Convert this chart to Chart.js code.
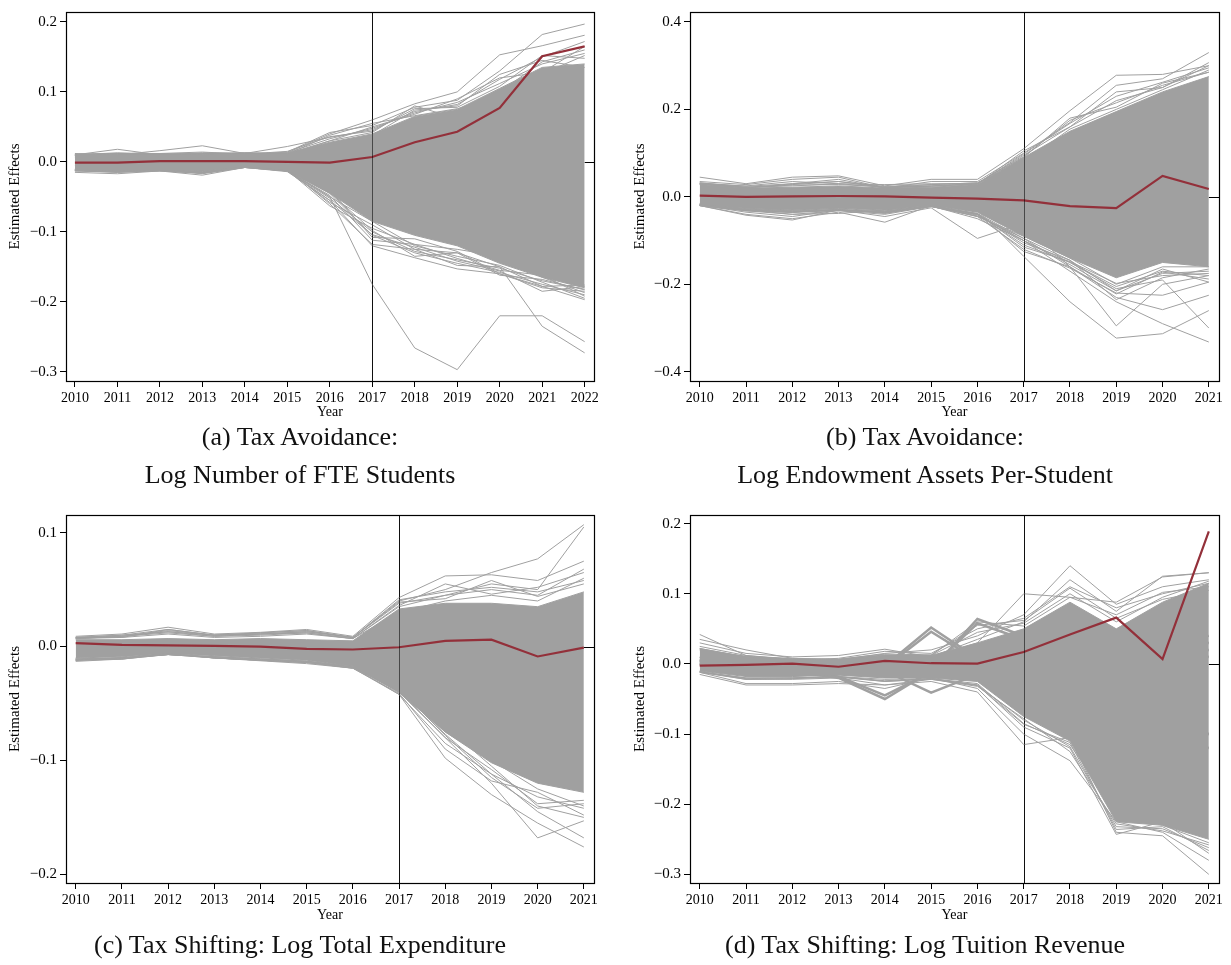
<!DOCTYPE html>
<html>
<head>
<meta charset="utf-8">
<script src="https://cdn.jsdelivr.net/npm/chart.js@4.4.0/dist/chart.umd.min.js"></script>
<style>
  body { margin: 0; background: #fff; }
  #page { position: relative; width: 1231px; height: 965px; font-family: "Liberation Serif", "Times New Roman", serif; }
  canvas { position: absolute; }
  .cap { position: absolute; width: 620px; text-align: center; font-size: 26px; line-height: 38px; color: #111; }
</style>
</head>
<body>
<div id="page">
  <canvas id="chartA" width="610" height="425" style="left:0;top:0"></canvas>
  <canvas id="chartB" width="616" height="425" style="left:615px;top:0"></canvas>
  <canvas id="chartC" width="610" height="425" style="left:0;top:503px"></canvas>
  <canvas id="chartD" width="616" height="425" style="left:615px;top:503px"></canvas>
  <div class="cap" style="left:-10px;top:418px">(a) Tax Avoidance:<br>Log Number of FTE Students</div>
  <div class="cap" style="left:615px;top:418px">(b) Tax Avoidance:<br>Log Endowment Assets Per-Student</div>
  <div class="cap" style="left:-10px;top:926px">(c) Tax Shifting: Log Total Expenditure</div>
  <div class="cap" style="left:615px;top:926px">(d) Tax Shifting: Log Tuition Revenue</div>
</div>
<script>
// ---------- data ----------
var yearsA = [2010,2011,2012,2013,2014,2015,2016,2017,2018,2019,2020,2021,2022];
var yearsB = [2010,2011,2012,2013,2014,2015,2016,2017,2018,2019,2020,2021];

// (a) log number of FTE students: red = actual estimate, hi/lo = dense placebo band
var redA = [-0.001,-0.001,0.001,0.001,0.001,0.000,-0.001,0.007,0.028,0.043,0.077,0.151,0.165];
var hiA  = [0.010,0.011,0.011,0.011,0.012,0.012,0.028,0.040,0.065,0.075,0.105,0.135,0.140];
var loA  = [-0.012,-0.013,-0.012,-0.013,-0.007,-0.012,-0.045,-0.085,-0.105,-0.120,-0.145,-0.165,-0.180];
var linesA = [
  [0.008,0.012,0.010,0.012,0.011,0.013,0.040,0.060,0.083,0.100,0.153,0.166,0.181],
  [0.010,0.018,0.010,0.012,0.010,0.014,0.042,0.052,0.078,0.088,0.130,0.182,0.197],
  [0.012,0.010,0.016,0.023,0.012,0.022,0.035,0.046,0.072,0.082,0.118,0.150,0.172],
  [0.006,0.009,0.012,0.010,0.013,0.010,0.030,0.042,0.080,0.062,0.100,0.143,0.160],
  [0.009,0.011,0.009,0.013,0.012,0.011,0.038,0.055,0.066,0.076,0.092,0.126,0.152],
  [0.010,0.013,0.011,0.012,0.012,0.013,0.033,0.048,0.070,0.085,0.112,0.140,0.155],
  [0.011,0.012,0.012,0.014,0.011,0.015,0.036,0.044,0.076,0.078,0.108,0.152,0.148],
  [0.009,0.011,0.010,0.011,0.012,0.012,0.030,0.050,0.068,0.090,0.120,0.128,0.165],
  [0.010,0.012,0.011,0.012,0.013,0.012,0.026,0.038,0.074,0.080,0.125,0.145,0.135],
  [-0.005,-0.008,-0.006,-0.008,-0.004,-0.012,-0.050,-0.175,-0.266,-0.297,-0.220,-0.220,-0.257],
  [-0.010,-0.012,-0.010,-0.012,-0.006,-0.010,-0.060,-0.118,-0.125,-0.130,-0.150,-0.235,-0.273],
  [-0.015,-0.017,-0.013,-0.019,-0.008,-0.014,-0.055,-0.120,-0.137,-0.153,-0.160,-0.178,-0.197],
  [-0.012,-0.014,-0.012,-0.016,-0.007,-0.013,-0.045,-0.105,-0.130,-0.145,-0.158,-0.175,-0.190],
  [-0.011,-0.013,-0.011,-0.015,-0.006,-0.012,-0.063,-0.095,-0.118,-0.125,-0.135,-0.165,-0.187],
  [-0.013,-0.015,-0.012,-0.017,-0.008,-0.013,-0.050,-0.085,-0.120,-0.135,-0.148,-0.172,-0.195],
  [-0.012,-0.013,-0.012,-0.014,-0.007,-0.012,-0.040,-0.108,-0.110,-0.128,-0.160,-0.180,-0.185],
  [-0.013,-0.014,-0.012,-0.015,-0.007,-0.013,-0.052,-0.100,-0.128,-0.140,-0.152,-0.170,-0.182],
  [-0.012,-0.015,-0.013,-0.016,-0.008,-0.013,-0.048,-0.112,-0.118,-0.138,-0.155,-0.162,-0.192],
  [-0.012,-0.014,-0.012,-0.015,-0.007,-0.012,-0.058,-0.090,-0.125,-0.148,-0.150,-0.178,-0.176],
  [-0.011,-0.013,-0.012,-0.014,-0.007,-0.012,-0.044,-0.098,-0.135,-0.130,-0.162,-0.168,-0.183],
  [-0.012,-0.014,-0.013,-0.016,-0.008,-0.013,-0.055,-0.104,-0.122,-0.142,-0.156,-0.185,-0.178]
];

// (b) log endowment assets per student
var redB = [0.003,0.000,0.001,0.002,0.001,-0.002,-0.004,-0.008,-0.021,-0.026,0.048,0.018];
var hiB  = [0.028,0.020,0.022,0.025,0.020,0.022,0.028,0.090,0.150,0.195,0.240,0.275];
var loB  = [-0.018,-0.026,-0.030,-0.026,-0.030,-0.020,-0.035,-0.090,-0.140,-0.185,-0.150,-0.160];
var linesB = [
  [0.045,0.030,0.045,0.048,0.025,0.040,0.040,0.110,0.197,0.278,0.280,0.300],
  [0.035,0.028,0.040,0.045,0.020,0.035,0.035,0.100,0.170,0.255,0.270,0.330],
  [0.030,0.025,0.035,0.030,0.028,0.030,0.030,0.095,0.160,0.220,0.250,0.307],
  [0.030,0.020,0.030,0.040,0.020,0.025,0.030,0.090,0.180,0.205,0.260,0.285],
  [0.032,0.022,0.028,0.035,0.024,0.028,0.032,0.080,0.155,0.200,0.245,0.290],
  [0.030,0.022,0.025,0.030,0.022,0.025,0.030,0.098,0.168,0.230,0.262,0.295],
  [0.032,0.024,0.030,0.035,0.021,0.028,0.032,0.092,0.175,0.215,0.255,0.285],
  [0.029,0.021,0.027,0.028,0.023,0.024,0.029,0.105,0.160,0.240,0.250,0.300],
  [-0.020,-0.040,-0.050,-0.035,-0.058,-0.020,-0.040,-0.100,-0.170,-0.240,-0.290,-0.332],
  [-0.015,-0.030,-0.040,-0.038,-0.030,-0.020,-0.030,-0.136,-0.240,-0.323,-0.313,-0.260],
  [-0.020,-0.042,-0.053,-0.030,-0.045,-0.025,-0.095,-0.060,-0.160,-0.295,-0.200,-0.180],
  [-0.018,-0.032,-0.040,-0.032,-0.040,-0.022,-0.040,-0.125,-0.160,-0.230,-0.258,-0.225],
  [-0.019,-0.035,-0.045,-0.030,-0.035,-0.022,-0.045,-0.120,-0.163,-0.220,-0.225,-0.195],
  [-0.017,-0.030,-0.035,-0.028,-0.038,-0.021,-0.050,-0.100,-0.150,-0.210,-0.190,-0.300],
  [-0.018,-0.028,-0.032,-0.030,-0.036,-0.020,-0.045,-0.090,-0.140,-0.200,-0.160,-0.160],
  [-0.016,-0.027,-0.031,-0.027,-0.032,-0.021,-0.038,-0.095,-0.145,-0.215,-0.175,-0.170],
  [-0.019,-0.030,-0.034,-0.030,-0.034,-0.021,-0.040,-0.110,-0.150,-0.205,-0.170,-0.180],
  [-0.020,-0.032,-0.036,-0.031,-0.036,-0.022,-0.042,-0.100,-0.155,-0.215,-0.165,-0.195],
  [-0.019,-0.029,-0.034,-0.029,-0.035,-0.021,-0.038,-0.115,-0.148,-0.198,-0.180,-0.175],
  [-0.020,-0.031,-0.035,-0.030,-0.037,-0.022,-0.044,-0.095,-0.160,-0.222,-0.172,-0.188],
  [-0.019,-0.030,-0.033,-0.031,-0.033,-0.021,-0.039,-0.105,-0.145,-0.235,-0.185,-0.165]
];

// (c) log total expenditure
var redC = [0.003,0.0015,0.001,0.0006,0.000,-0.002,-0.0026,-0.0006,0.005,0.006,-0.0087,-0.001];
var hiC  = [0.006,0.006,0.007,0.006,0.007,0.006,0.005,0.033,0.038,0.038,0.035,0.048];
var loC  = [-0.010,-0.009,-0.006,-0.008,-0.010,-0.012,-0.017,-0.040,-0.075,-0.102,-0.120,-0.128];
var linesC = [
  [0.009,0.011,0.017,0.011,0.0125,0.015,0.009,0.043,0.062,0.063,0.058,0.075],
  [0.008,0.008,0.015,0.010,0.012,0.014,0.008,0.040,0.050,0.065,0.077,0.107],
  [0.007,0.009,0.012,0.009,0.010,0.012,0.007,0.035,0.045,0.055,0.050,0.105],
  [0.008,0.010,0.013,0.010,0.011,0.013,0.008,0.038,0.045,0.050,0.045,0.068],
  [0.007,0.008,0.011,0.008,0.009,0.011,0.007,0.030,0.040,0.045,0.040,0.060],
  [0.008,0.009,0.014,0.010,0.011,0.013,0.008,0.041,0.048,0.052,0.048,0.058],
  [0.007,0.009,0.013,0.009,0.011,0.012,0.007,0.036,0.055,0.046,0.052,0.065],
  [0.008,0.010,0.015,0.010,0.012,0.014,0.008,0.039,0.042,0.058,0.044,0.055],
  [-0.013,-0.011,-0.007,-0.010,-0.0125,-0.015,-0.019,-0.042,-0.098,-0.130,-0.155,-0.176],
  [-0.012,-0.010,-0.006,-0.010,-0.012,-0.014,-0.018,-0.040,-0.080,-0.120,-0.168,-0.153],
  [-0.011,-0.010,-0.007,-0.009,-0.011,-0.013,-0.018,-0.038,-0.077,-0.112,-0.145,-0.168],
  [-0.012,-0.011,-0.006,-0.010,-0.012,-0.014,-0.019,-0.036,-0.070,-0.105,-0.140,-0.150],
  [-0.011,-0.010,-0.007,-0.009,-0.011,-0.013,-0.017,-0.040,-0.075,-0.100,-0.125,-0.140],
  [-0.012,-0.010,-0.007,-0.009,-0.011,-0.013,-0.018,-0.042,-0.085,-0.112,-0.132,-0.142],
  [-0.011,-0.010,-0.006,-0.010,-0.012,-0.014,-0.018,-0.039,-0.080,-0.108,-0.138,-0.135],
  [-0.012,-0.011,-0.007,-0.010,-0.012,-0.014,-0.019,-0.041,-0.090,-0.118,-0.128,-0.148],
  [-0.011,-0.010,-0.007,-0.009,-0.011,-0.013,-0.018,-0.037,-0.078,-0.115,-0.142,-0.138]
];

// (d) log tuition revenue
var redD = [-0.0024,-0.0014,0.0005,-0.004,0.0043,0.001,0.0005,0.017,0.042,0.066,0.007,0.189];
var hiD  = [0.022,0.010,0.007,0.006,0.012,0.012,0.030,0.050,0.088,0.050,0.088,0.115];
var loD  = [-0.010,-0.018,-0.018,-0.016,-0.020,-0.020,-0.025,-0.075,-0.110,-0.225,-0.230,-0.250];
var linesD = [
  [0.042,0.012,0.006,0.005,0.010,0.010,0.030,0.100,0.095,0.088,0.124,0.130],
  [0.035,0.020,0.008,0.006,0.015,0.020,0.040,0.070,0.140,0.085,0.110,0.120],
  [0.030,0.015,0.010,0.012,0.021,0.010,0.035,0.060,0.120,0.075,0.125,0.130],
  [0.020,0.010,0.005,0.008,0.018,0.015,0.050,0.065,0.110,0.080,0.100,0.115],
  [0.020,0.011,0.006,0.006,0.013,0.012,0.045,0.058,0.100,0.060,0.095,0.118],
  [0.025,0.012,0.007,0.007,0.014,0.013,0.055,0.062,0.108,0.065,0.092,0.105],
  [0.022,0.010,0.008,0.006,0.012,0.012,0.060,0.054,0.095,0.070,0.102,0.110],
  [-0.015,-0.030,-0.030,-0.028,-0.030,-0.025,-0.040,-0.115,-0.105,-0.240,-0.245,-0.300],
  [-0.012,-0.028,-0.028,-0.025,-0.035,-0.020,-0.035,-0.100,-0.138,-0.225,-0.240,-0.280],
  [-0.011,-0.022,-0.022,-0.020,-0.030,-0.022,-0.030,-0.090,-0.120,-0.243,-0.225,-0.270],
  [-0.012,-0.020,-0.020,-0.018,-0.025,-0.021,-0.028,-0.085,-0.115,-0.210,-0.230,-0.255],
  [-0.011,-0.020,-0.020,-0.018,-0.022,-0.021,-0.030,-0.080,-0.118,-0.232,-0.235,-0.262],
  [-0.012,-0.022,-0.021,-0.019,-0.025,-0.022,-0.032,-0.078,-0.125,-0.228,-0.238,-0.258],
  [-0.011,-0.021,-0.020,-0.018,-0.024,-0.021,-0.031,-0.086,-0.112,-0.236,-0.232,-0.266]
];
// (d) bundles of near-identical placebo paths in 2014-2016, drawn thicker
var bundlesD = [
  [0.002,0.000,0.002,0.000,-0.003,0.052,0.008,0.020,0.030,0.000,0.020,0.010],
  [0.004,0.001,0.001,-0.001,-0.005,0.046,0.005,0.018,0.025,0.005,0.015,0.020],
  [0.005,0.000,0.000,0.000,0.000,-0.008,0.064,0.040,0.050,0.020,0.030,0.040],
  [0.006,0.001,0.001,0.001,0.001,-0.005,0.058,0.035,0.045,0.015,0.035,0.030],
  [0.000,-0.010,-0.010,-0.020,-0.050,-0.010,-0.020,-0.030,-0.050,-0.100,-0.100,-0.100],
  [0.000,-0.008,-0.012,-0.018,-0.045,-0.012,-0.018,-0.025,-0.045,-0.090,-0.110,-0.120],
  [0.010,-0.012,-0.015,-0.010,-0.010,-0.041,-0.015,-0.020,-0.040,-0.080,-0.090,-0.100]
];

var ticksA = [-0.3,-0.2,-0.1,0,0.1,0.2];
var ticksB = [-0.4,-0.2,0,0.2,0.4];
var ticksC = [-0.2,-0.1,0,0.1];
var ticksD = [-0.3,-0.2,-0.1,0,0.1,0.2];

var treatYear = 2017;

// ---------- drawing ----------
var SERIF = '"Liberation Serif", "Times New Roman", serif';
var GRAY = '#a0a0a0';
var RED = '#93303a';

function pts(years, vals) {
    return years.map(function(yr, i) { return {x: yr, y: vals[i]}; });
}

// zero line, treatment-year line and box frame
var refLines = {
    id: 'refLines',
    beforeDatasetsDraw: function(chart, args, opts) {
        var ctx = chart.ctx, a = chart.chartArea, x = chart.scales.x, y = chart.scales.y;
        ctx.save();
        ctx.strokeStyle = '#000';
        ctx.lineWidth = 1;
        var y0 = Math.round(y.getPixelForValue(0)) + 0.5;
        ctx.beginPath();
        ctx.moveTo(x.getPixelForValue(opts.last), y0);
        ctx.lineTo(a.right, y0);
        ctx.stroke();
        var xv = Math.round(x.getPixelForValue(treatYear)) + 0.5;
        ctx.strokeStyle = '#222';
        ctx.beginPath();
        ctx.moveTo(xv, a.top);
        ctx.lineTo(xv, a.bottom);
        ctx.stroke();
        ctx.restore();
    },
    afterDatasetsDraw: function(chart) {
        var ctx = chart.ctx, a = chart.chartArea, x = chart.scales.x;
        ctx.save();
        var xv = Math.round(x.getPixelForValue(treatYear)) + 0.5;
        ctx.strokeStyle = 'rgba(0,0,0,0.55)';
        ctx.lineWidth = 1;
        ctx.beginPath();
        ctx.moveTo(xv, a.top);
        ctx.lineTo(xv, a.bottom);
        ctx.stroke();
        ctx.strokeStyle = '#000';
        ctx.lineWidth = 1.2;
        ctx.strokeRect(Math.round(a.left) + 0.5, Math.round(a.top) + 0.5,
                       Math.round(a.right - a.left), Math.round(a.bottom - a.top));
        ctx.restore();
    }
};

function fmt(v) {
    return (v < 0 ? '\u2212' : '') + Math.abs(v).toFixed(1);
}

function grayLine(years, vals, width) {
    return {data: pts(years, vals), borderColor: GRAY, borderWidth: width, pointRadius: 0, fill: false};
}

function makePanel(id, p) {
    var datasets = [];
    datasets.push({data: pts(p.years, p.red), borderColor: RED, borderWidth: 2.2, pointRadius: 0, fill: false});
    datasets.push({data: pts(p.years, p.hi), borderColor: GRAY, borderWidth: 1, pointRadius: 0,
                   fill: '+1', backgroundColor: GRAY});
    datasets.push(grayLine(p.years, p.lo, 1));
    p.lines.forEach(function(l) { datasets.push(grayLine(p.years, l, 1)); });
    (p.bundles || []).forEach(function(l) { datasets.push(grayLine(p.years, l, 2.5)); });

    var last = p.years[p.years.length - 1];
    new Chart(document.getElementById(id), {
        type: 'line',
        data: {datasets: datasets},
        options: {
            responsive: false,
            animation: false,
            layout: {padding: {top: p.padTop, right: p.padRight, left: 0, bottom: 0}},
            plugins: {
                legend: {display: false},
                tooltip: {enabled: false},
                refLines: {last: last}
            },
            scales: {
                x: {
                    type: 'linear',
                    min: p.years[0] - 0.21,
                    max: last + 0.22,
                    afterBuildTicks: function(s) { s.ticks = p.years.map(function(v) { return {value: v}; }); },
                    afterFit: function(s) { s.height = p.xAxisH; },
                    ticks: {autoSkip: false, maxRotation: 0, color: '#000', padding: 3,
                            font: {family: SERIF, size: 14},
                            callback: function(v) { return String(v); }},
                    grid: {drawOnChartArea: false, drawTicks: true, tickLength: 6, tickColor: '#000'},
                    border: {display: true, color: '#000', width: 1},
                    title: {display: true, text: 'Year', color: '#000',
                            font: {family: SERIF, size: 14}, padding: {top: 0, bottom: 4}}
                },
                y: {
                    min: p.yMin,
                    max: p.yMax,
                    afterBuildTicks: function(s) { s.ticks = p.yTicks.map(function(v) { return {value: v}; }); },
                    afterFit: function(s) { s.width = p.yAxisW; },
                    ticks: {color: '#000', padding: 3, font: {family: SERIF, size: 15}, callback: fmt},
                    grid: {drawOnChartArea: false, drawTicks: true, tickLength: 6, tickColor: '#000'},
                    border: {display: true, color: '#000', width: 1},
                    title: {display: true, text: 'Estimated Effects', color: '#000',
                            font: {family: SERIF, size: 15}, padding: {top: p.yTitlePad, bottom: 0}}
                }
            }
        },
        plugins: [refLines]
    });
}

makePanel('chartA', {years: yearsA, red: redA, hi: hiA, lo: loA, lines: linesA,
    yMin: -0.3132, yMax: 0.2142, yTicks: ticksA,
    padTop: 9, padRight: 16, yAxisW: 66, xAxisH: 44, yTitlePad: 6});
makePanel('chartB', {years: yearsB, red: redB, hi: hiB, lo: loB, lines: linesB,
    yMin: -0.4211, yMax: 0.4227, yTicks: ticksB,
    padTop: 9, padRight: 12, yAxisW: 75, xAxisH: 44, yTitlePad: 16});
makePanel('chartC', {years: yearsB, red: redC, hi: hiC, lo: loC, lines: linesC,
    yMin: -0.2076, yMax: 0.1155, yTicks: ticksC,
    padTop: 10, padRight: 16, yAxisW: 66, xAxisH: 45, yTitlePad: 6});
makePanel('chartD', {years: yearsB, red: redD, hi: hiD, lo: loD, lines: linesD, bundles: bundlesD,
    yMin: -0.3123, yMax: 0.2123, yTicks: ticksD,
    padTop: 10, padRight: 12, yAxisW: 75, xAxisH: 45, yTitlePad: 16});
</script>
</body>
</html>
